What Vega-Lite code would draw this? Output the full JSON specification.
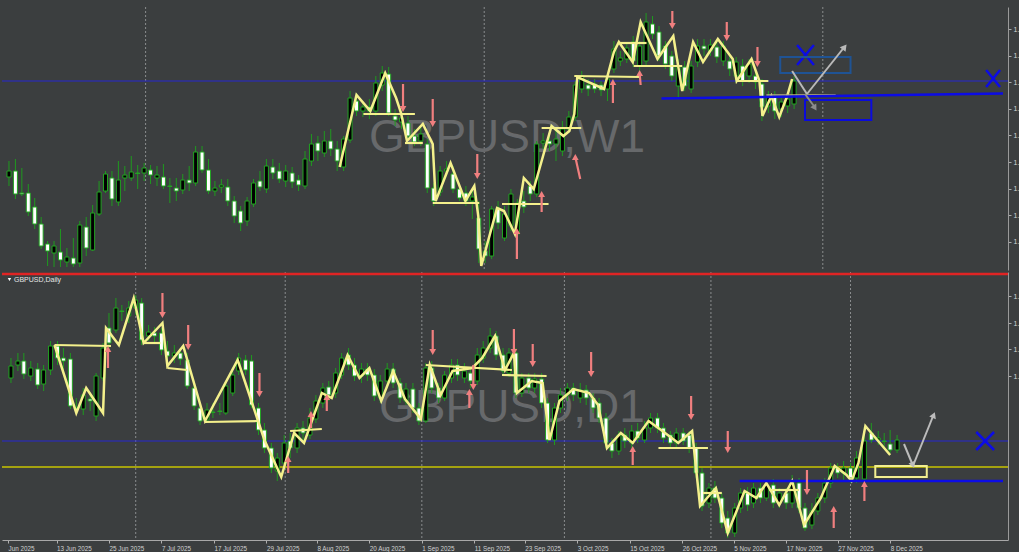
{
"$schema":"https://vega.github.io/schema/vega-lite/v6.json",
"background":"#3b3e3f",
"padding":{"left":0,"top":6,"right":0,"bottom":0},
"spacing":0,
"config":{"view":{"stroke":null},"axis":{"labelFont":"Liberation Sans","grid":false}},
"datasets":{
"tc":[{"x":2,"o":176,"c":170,"h":160,"l":185},{"x":8.5,"o":170,"c":193,"h":158,"l":198},{"x":15,"o":192,"c":193,"h":167,"l":195},{"x":21.5,"o":192,"c":211,"h":183,"l":215},{"x":28,"o":206,"c":223,"h":197,"l":228},{"x":34.5,"o":223,"c":245,"h":216,"l":248},{"x":41,"o":243,"c":250,"h":240,"l":265},{"x":47.5,"o":252,"c":245,"h":240,"l":266},{"x":54,"o":251,"c":259,"h":228,"l":266},{"x":60.5,"o":261,"c":256,"h":247,"l":266},{"x":67,"o":257,"c":263,"h":237,"l":266},{"x":73.5,"o":262,"c":224,"h":220,"l":266},{"x":80,"o":226,"c":247,"h":216,"l":255},{"x":86.5,"o":249,"c":212,"h":204,"l":250},{"x":93,"o":213,"c":191,"h":180,"l":215},{"x":99.5,"o":190,"c":173,"h":170,"l":192},{"x":106,"o":177,"c":198,"h":170,"l":205},{"x":112.5,"o":201,"c":179,"h":160,"l":205},{"x":119,"o":177,"c":174,"h":165,"l":190},{"x":125.5,"o":177,"c":171,"h":155,"l":180},{"x":132,"o":172,"c":172.5,"h":164,"l":188},{"x":138.5,"o":172,"c":167,"h":162,"l":180},{"x":145,"o":169,"c":174,"h":164,"l":183},{"x":151.5,"o":177,"c":174,"h":165,"l":185},{"x":158,"o":176,"c":185,"h":163,"l":188},{"x":164.5,"o":185,"c":185.5,"h":177,"l":202},{"x":171,"o":187,"c":190,"h":177,"l":200},{"x":177.5,"o":189,"c":179,"h":173,"l":193},{"x":184,"o":179,"c":182,"h":165,"l":190},{"x":190.5,"o":182,"c":151,"h":145,"l":185},{"x":197,"o":151,"c":169,"h":145,"l":172},{"x":203.5,"o":169,"c":190,"h":158,"l":193},{"x":210,"o":190,"c":187,"h":180,"l":195},{"x":216.5,"o":186,"c":184,"h":178,"l":192},{"x":223,"o":186,"c":200,"h":178,"l":205},{"x":229.5,"o":200,"c":215,"h":195,"l":222},{"x":236,"o":210,"c":222,"h":205,"l":230},{"x":242.5,"o":220,"c":200,"h":196,"l":225},{"x":249,"o":203,"c":182,"h":178,"l":206},{"x":255.5,"o":180,"c":186,"h":170,"l":190},{"x":262,"o":188,"c":165,"h":158,"l":192},{"x":268.5,"o":166,"c":172,"h":158,"l":178},{"x":275,"o":170,"c":178,"h":162,"l":182},{"x":281.5,"o":180,"c":170,"h":164,"l":186},{"x":288,"o":172,"c":181,"h":166,"l":187},{"x":294.5,"o":179,"c":184,"h":174,"l":190},{"x":301,"o":185,"c":158,"h":150,"l":188},{"x":307.5,"o":160,"c":143,"h":133,"l":165},{"x":314,"o":142,"c":150,"h":135,"l":160},{"x":320.5,"o":152,"c":140,"h":130,"l":156},{"x":327,"o":140,"c":148,"h":128,"l":155},{"x":333.5,"o":148,"c":160,"h":140,"l":170},{"x":340,"o":166,"c":138,"h":135,"l":170},{"x":346.5,"o":139,"c":97,"h":90,"l":142},{"x":353,"o":100,"c":110,"h":92,"l":115},{"x":359.5,"o":110,"c":106,"h":100,"l":116},{"x":366,"o":106,"c":110,"h":98,"l":118},{"x":372.5,"o":110,"c":82,"h":75,"l":115},{"x":379,"o":84,"c":72,"h":65,"l":90},{"x":385.5,"o":73,"c":112,"h":66,"l":115},{"x":392,"o":115,"c":119,"h":108,"l":125},{"x":398.5,"o":121,"c":117,"h":112,"l":128},{"x":405,"o":122,"c":135,"h":115,"l":140},{"x":411.5,"o":135,"c":141,"h":128,"l":145},{"x":418,"o":140,"c":133,"h":125,"l":145},{"x":424.5,"o":143,"c":187,"h":138,"l":192},{"x":431,"o":187,"c":200,"h":182,"l":205},{"x":437.5,"o":191,"c":170,"h":165,"l":195},{"x":444,"o":170,"c":168,"h":160,"l":175},{"x":450.5,"o":173,"c":188,"h":165,"l":192},{"x":457,"o":188,"c":197,"h":182,"l":200},{"x":463.5,"o":192,"c":200,"h":185,"l":205},{"x":470,"o":200,"c":196,"h":188,"l":218},{"x":476.5,"o":217,"c":248,"h":200,"l":262},{"x":483,"o":250,"c":255,"h":240,"l":262},{"x":489.5,"o":255,"c":208,"h":205,"l":258},{"x":496,"o":207,"c":222,"h":200,"l":228},{"x":502.5,"o":237,"c":213,"h":205,"l":240},{"x":509,"o":225,"c":193,"h":188,"l":230},{"x":515.5,"o":233,"c":202,"h":198,"l":240},{"x":522,"o":200,"c":206,"h":190,"l":212},{"x":528.5,"o":185,"c":193,"h":180,"l":200},{"x":535,"o":193,"c":143,"h":140,"l":196},{"x":541.5,"o":142,"c":140,"h":132,"l":148},{"x":548,"o":140,"c":143,"h":135,"l":150},{"x":554.5,"o":143,"c":138,"h":128,"l":160},{"x":561,"o":150,"c":128,"h":120,"l":155},{"x":567.5,"o":128,"c":116,"h":110,"l":132},{"x":574,"o":116,"c":84,"h":80,"l":120},{"x":580.5,"o":88,"c":75,"h":70,"l":92},{"x":587,"o":84,"c":88,"h":78,"l":95},{"x":593.5,"o":83,"c":88,"h":78,"l":92},{"x":600,"o":84,"c":89,"h":80,"l":95},{"x":606.5,"o":88,"c":78,"h":72,"l":100},{"x":613,"o":68,"c":48,"h":40,"l":72},{"x":619.5,"o":60,"c":57,"h":50,"l":65},{"x":626,"o":58,"c":47,"h":42,"l":62},{"x":632.5,"o":41,"c":60,"h":35,"l":66},{"x":639,"o":65,"c":45,"h":40,"l":70},{"x":645.5,"o":60,"c":21,"h":12,"l":66},{"x":652,"o":23,"c":33,"h":15,"l":38},{"x":658.5,"o":31,"c":55,"h":25,"l":60},{"x":665,"o":45,"c":63,"h":40,"l":68},{"x":671.5,"o":55,"c":75,"h":50,"l":80},{"x":678,"o":85,"c":65,"h":58,"l":98},{"x":684.5,"o":66,"c":85,"h":60,"l":90},{"x":691,"o":88,"c":65,"h":60,"l":92},{"x":697.5,"o":61,"c":45,"h":38,"l":66},{"x":704,"o":45,"c":48,"h":38,"l":55},{"x":710.5,"o":50,"c":44,"h":38,"l":55},{"x":717,"o":46,"c":56,"h":40,"l":62},{"x":723.5,"o":60,"c":45,"h":40,"l":65},{"x":730,"o":60,"c":68,"h":55,"l":75},{"x":736.5,"o":75,"c":61,"h":56,"l":82},{"x":743,"o":65,"c":80,"h":58,"l":85},{"x":749.5,"o":75,"c":63,"h":58,"l":82},{"x":756,"o":75,"c":81,"h":70,"l":88},{"x":762.5,"o":83,"c":106,"h":78,"l":120},{"x":769,"o":105,"c":96,"h":90,"l":112},{"x":775.5,"o":96,"c":110,"h":90,"l":118},{"x":782,"o":108,"c":101,"h":95,"l":116},{"x":788.5,"o":105,"c":98,"h":92,"l":112},{"x":795,"o":103,"c":80,"h":75,"l":108}],
"bc":[{"x":4,"o":375,"c":363,"h":355,"l":380},{"x":11,"o":362,"c":358,"h":350,"l":368},{"x":17,"o":358,"c":371,"h":350,"l":376},{"x":24,"o":373,"c":365,"h":358,"l":378},{"x":31,"o":366,"c":382,"h":360,"l":386},{"x":37,"o":381,"c":367,"h":362,"l":388},{"x":44,"o":367,"c":343,"h":338,"l":372},{"x":51,"o":343,"c":355,"h":338,"l":362},{"x":57,"o":355,"c":358,"h":345,"l":370},{"x":64,"o":356,"c":403,"h":350,"l":406},{"x":70,"o":405,"c":406,"h":395,"l":410},{"x":77,"o":406,"c":392,"h":385,"l":412},{"x":84,"o":396,"c":398,"h":390,"l":408},{"x":90,"o":413,"c":373,"h":370,"l":418},{"x":97,"o":375,"c":345,"h":340,"l":378},{"x":103,"o":325,"c":340,"h":310,"l":345},{"x":110,"o":327,"c":305,"h":295,"l":330},{"x":116,"o":308,"c":308.5,"h":302,"l":318},{"x":123,"o":313,"c":305,"h":298,"l":320},{"x":130,"o":305,"c":297,"h":292,"l":312},{"x":136,"o":300,"c":337,"h":295,"l":342},{"x":143,"o":333,"c":329,"h":322,"l":338},{"x":149,"o":330,"c":333,"h":324,"l":340},{"x":156,"o":330,"c":347,"h":325,"l":352},{"x":162,"o":348,"c":353,"h":338,"l":358},{"x":169,"o":353,"c":350,"h":342,"l":360},{"x":175,"o":350,"c":356,"h":345,"l":362},{"x":182,"o":357,"c":383,"h":350,"l":386},{"x":189,"o":385,"c":403,"h":378,"l":407},{"x":195,"o":405,"c":418,"h":400,"l":422},{"x":202,"o":417,"c":407,"h":400,"l":420},{"x":208,"o":409,"c":409.5,"h":400,"l":415},{"x":215,"o":408,"c":408.5,"h":400,"l":412},{"x":221,"o":410,"c":383,"h":378,"l":412},{"x":228,"o":390,"c":372,"h":368,"l":393},{"x":234,"o":368,"c":355,"h":350,"l":372},{"x":241,"o":357,"c":367,"h":352,"l":372},{"x":247,"o":358,"c":402,"h":352,"l":405},{"x":254,"o":405,"c":427,"h":400,"l":432},{"x":260,"o":427,"c":445,"h":420,"l":450},{"x":267,"o":445,"c":465,"h":440,"l":470},{"x":273,"o":468,"c":455,"h":450,"l":478},{"x":280,"o":460,"c":440,"h":432,"l":465},{"x":286,"o":438,"c":445,"h":430,"l":455},{"x":293,"o":445,"c":425,"h":420,"l":450},{"x":299,"o":425,"c":430,"h":418,"l":438},{"x":306,"o":432,"c":415,"h":405,"l":436},{"x":312,"o":416,"c":398,"h":392,"l":420},{"x":319,"o":400,"c":385,"h":380,"l":405},{"x":325,"o":384,"c":392,"h":378,"l":398},{"x":332,"o":390,"c":370,"h":365,"l":395},{"x":338,"o":372,"c":355,"h":350,"l":376},{"x":345,"o":352,"c":362,"h":345,"l":367},{"x":351,"o":362,"c":373,"h":355,"l":378},{"x":358,"o":373,"c":366,"h":360,"l":380},{"x":364,"o":366,"c":372,"h":360,"l":378},{"x":371,"o":372,"c":393,"h":366,"l":398},{"x":377,"o":395,"c":378,"h":372,"l":400},{"x":384,"o":378,"c":366,"h":360,"l":382},{"x":390,"o":366,"c":380,"h":360,"l":385},{"x":397,"o":380,"c":395,"h":375,"l":400},{"x":403,"o":398,"c":386,"h":380,"l":402},{"x":410,"o":386,"c":405,"h":380,"l":410},{"x":416,"o":405,"c":418,"h":400,"l":422},{"x":423,"o":418,"c":365,"h":360,"l":420},{"x":429,"o":365,"c":385,"h":358,"l":390},{"x":436,"o":385,"c":395,"h":380,"l":400},{"x":442,"o":395,"c":372,"h":368,"l":398},{"x":449,"o":375,"c":362,"h":356,"l":380},{"x":455,"o":362,"c":372,"h":356,"l":378},{"x":462,"o":375,"c":368,"h":360,"l":380},{"x":468,"o":370,"c":378,"h":364,"l":385},{"x":475,"o":378,"c":352,"h":345,"l":382},{"x":481,"o":355,"c":345,"h":338,"l":360},{"x":488,"o":345,"c":333,"h":325,"l":350},{"x":494,"o":333,"c":352,"h":328,"l":357},{"x":501,"o":352,"c":368,"h":345,"l":372},{"x":507,"o":370,"c":350,"h":345,"l":374},{"x":514,"o":350,"c":390,"h":345,"l":395},{"x":520,"o":390,"c":375,"h":370,"l":394},{"x":527,"o":375,"c":385,"h":370,"l":390},{"x":533,"o":385,"c":376,"h":370,"l":390},{"x":540,"o":376,"c":400,"h":370,"l":405},{"x":546,"o":400,"c":437,"h":395,"l":440},{"x":553,"o":437,"c":405,"h":400,"l":442},{"x":559,"o":405,"c":392,"h":385,"l":410},{"x":566,"o":392,"c":385,"h":380,"l":398},{"x":572,"o":385,"c":392,"h":380,"l":398},{"x":579,"o":395,"c":387,"h":380,"l":400},{"x":585,"o":387,"c":395,"h":382,"l":402},{"x":592,"o":395,"c":405,"h":390,"l":410},{"x":598,"o":400,"c":415,"h":395,"l":420},{"x":605,"o":415,"c":440,"h":410,"l":445},{"x":611,"o":440,"c":448,"h":435,"l":455},{"x":618,"o":448,"c":432,"h":428,"l":452},{"x":624,"o":432,"c":438,"h":425,"l":445},{"x":631,"o":440,"c":428,"h":422,"l":445},{"x":637,"o":428,"c":435,"h":420,"l":440},{"x":644,"o":437,"c":425,"h":418,"l":440},{"x":650,"o":425,"c":415,"h":410,"l":430},{"x":657,"o":415,"c":425,"h":410,"l":430},{"x":663,"o":425,"c":435,"h":420,"l":440},{"x":670,"o":432,"c":440,"h":428,"l":445},{"x":676,"o":440,"c":430,"h":425,"l":445},{"x":683,"o":430,"c":438,"h":425,"l":442},{"x":689,"o":432,"c":445,"h":428,"l":450},{"x":696,"o":445,"c":470,"h":440,"l":475},{"x":702,"o":470,"c":503,"h":465,"l":508},{"x":709,"o":500,"c":485,"h":480,"l":505},{"x":715,"o":485,"c":495,"h":478,"l":500},{"x":722,"o":495,"c":520,"h":490,"l":525},{"x":728,"o":515,"c":530,"h":508,"l":535},{"x":735,"o":530,"c":505,"h":500,"l":534},{"x":741,"o":505,"c":490,"h":485,"l":510},{"x":748,"o":490,"c":502,"h":484,"l":508},{"x":754,"o":500,"c":485,"h":480,"l":505},{"x":761,"o":485,"c":495,"h":480,"l":500},{"x":767,"o":495,"c":482,"h":478,"l":498},{"x":774,"o":482,"c":500,"h":476,"l":505},{"x":780,"o":500,"c":490,"h":485,"l":505},{"x":787,"o":490,"c":500,"h":485,"l":506},{"x":793,"o":500,"c":478,"h":472,"l":505},{"x":800,"o":480,"c":505,"h":475,"l":510},{"x":806,"o":505,"c":525,"h":500,"l":528},{"x":813,"o":522,"c":508,"h":500,"l":526},{"x":819,"o":508,"c":495,"h":490,"l":512},{"x":826,"o":495,"c":480,"h":475,"l":500},{"x":832,"o":480,"c":465,"h":460,"l":485},{"x":839,"o":465,"c":470,"h":460,"l":475},{"x":845,"o":470,"c":465,"h":458,"l":478},{"x":852,"o":465,"c":475,"h":460,"l":480},{"x":858,"o":475,"c":455,"h":448,"l":480},{"x":866,"o":476,"c":438,"h":424,"l":478},{"x":873,"o":430,"c":437,"h":420,"l":440},{"x":880,"o":437,"c":435,"h":428,"l":442},{"x":886,"o":438,"c":438.5,"h":430,"l":445},{"x":892,"o":441,"c":447,"h":427,"l":450},{"x":899,"o":447,"c":437,"h":432,"l":450}],
"tz":[{"x":336,"y":166},{"x":344,"y":132},{"x":353,"y":94},{"x":367,"y":110},{"x":382,"y":72},{"x":393,"y":97},{"x":398,"y":112},{"x":404,"y":140},{"x":420,"y":123},{"x":430,"y":143},{"x":433,"y":200},{"x":448,"y":162},{"x":463,"y":200},{"x":472,"y":185},{"x":476,"y":215},{"x":479,"y":265},{"x":495,"y":207},{"x":502,"y":210},{"x":513,"y":233},{"x":522,"y":177},{"x":532,"y":188},{"x":550,"y":125},{"x":562,"y":135},{"x":568,"y":130},{"x":573,"y":113},{"x":576,"y":76},{"x":603,"y":88},{"x":613,"y":51},{"x":618,"y":41},{"x":632,"y":61},{"x":640,"y":21},{"x":657,"y":58},{"x":673,"y":35},{"x":682,"y":90},{"x":693,"y":41},{"x":703,"y":61},{"x":718,"y":38},{"x":733,"y":58},{"x":737,"y":80},{"x":752,"y":58},{"x":760,"y":80},{"x":763,"y":115},{"x":772,"y":95},{"x":780,"y":116},{"x":788,"y":95},{"x":793,"y":78}],
"bz":[{"x":48,"y":342},{"x":70,"y":410},{"x":80,"y":385},{"x":97,"y":410},{"x":100,"y":325},{"x":113,"y":342},{"x":128,"y":295},{"x":138,"y":340},{"x":157,"y":320},{"x":162,"y":363},{"x":178,"y":343},{"x":200,"y":418},{"x":233,"y":357},{"x":260,"y":437},{"x":277,"y":474},{"x":290,"y":430},{"x":300,"y":440},{"x":318,"y":390},{"x":328,"y":395},{"x":344,"y":352},{"x":356,"y":375},{"x":366,"y":365},{"x":378,"y":398},{"x":390,"y":368},{"x":402,"y":396},{"x":418,"y":416},{"x":427,"y":362},{"x":438,"y":392},{"x":450,"y":368},{"x":470,"y":365},{"x":480,"y":355},{"x":493,"y":333},{"x":503,"y":367},{"x":512,"y":350},{"x":515,"y":390},{"x":530,"y":378},{"x":541,"y":380},{"x":548,"y":437},{"x":558,"y":398},{"x":572,"y":386},{"x":588,"y":390},{"x":597,"y":402},{"x":606,"y":445},{"x":620,"y":430},{"x":632,"y":440},{"x":648,"y":418},{"x":662,"y":428},{"x":678,"y":440},{"x":692,"y":428},{"x":700,"y":503},{"x":716,"y":485},{"x":728,"y":530},{"x":745,"y":488},{"x":757,"y":495},{"x":767,"y":480},{"x":780,"y":502},{"x":793,"y":478},{"x":805,"y":522},{"x":822,"y":495},{"x":836,"y":463},{"x":848,"y":472},{"x":853,"y":478},{"x":860,"y":460},{"x":867,"y":423},{"x":873,"y":430},{"x":892,"y":452}],
"ts":[{"x":360,"y":113,"x2":412,"y2":113},{"x":402,"y":142,"x2":420,"y2":142},{"x":430,"y":202,"x2":477,"y2":202},{"x":500,"y":203,"x2":547,"y2":203},{"x":540,"y":127,"x2":580,"y2":127},{"x":573,"y":75,"x2":640,"y2":76},{"x":617,"y":42,"x2":646,"y2":42},{"x":633,"y":65,"x2":682,"y2":65},{"x":737,"y":80,"x2":769,"y2":80}],
"bs":[{"x":48,"y":342,"x2":105,"y2":343},{"x":138,"y":340,"x2":155,"y2":340},{"x":162,"y":365,"x2":182,"y2":367},{"x":200,"y":419,"x2":253,"y2":418},{"x":286,"y":428,"x2":318,"y2":426},{"x":423,"y":362,"x2":510,"y2":367},{"x":500,"y":372,"x2":545,"y2":373},{"x":658,"y":445,"x2":708,"y2":445},{"x":703,"y":490,"x2":722,"y2":490},{"x":770,"y":487,"x2":800,"y2":487}],
"ta":[{"x":400,"y":83,"x2":400,"y2":108,"d":"down"},{"x":430,"y":98,"x2":430,"y2":123,"d":"down"},{"x":475,"y":153,"x2":475,"y2":175,"d":"down"},{"x":672,"y":10,"x2":672,"y2":25,"d":"down"},{"x":727,"y":21,"x2":727,"y2":37,"d":"down"},{"x":758,"y":46,"x2":758,"y2":63,"d":"down"},{"x":515,"y":258,"x2":515,"y2":230,"d":"up"},{"x":540,"y":211,"x2":540,"y2":193,"d":"up"},{"x":579,"y":178,"x2":574,"y2":156,"d":"up"},{"x":612,"y":102,"x2":612,"y2":81,"d":"up"},{"x":640,"y":84,"x2":639,"y2":72,"d":"up"}],
"ba":[{"x":157,"y":290,"x2":157,"y2":312,"d":"down"},{"x":183,"y":322,"x2":183,"y2":344,"d":"down"},{"x":255,"y":370,"x2":255,"y2":391,"d":"down"},{"x":430,"y":327,"x2":430,"y2":349,"d":"down"},{"x":471,"y":362,"x2":471,"y2":384,"d":"down"},{"x":512,"y":326,"x2":512,"y2":349,"d":"down"},{"x":531,"y":341,"x2":531,"y2":361,"d":"down"},{"x":590,"y":349,"x2":590,"y2":371,"d":"down"},{"x":691,"y":393,"x2":691,"y2":414,"d":"down"},{"x":728,"y":428,"x2":728,"y2":447,"d":"down"},{"x":808,"y":467,"x2":808,"y2":489,"d":"down"},{"x":102,"y":365,"x2":102,"y2":346,"d":"up"},{"x":284,"y":470,"x2":284,"y2":456,"d":"up"},{"x":307,"y":425,"x2":307,"y2":411,"d":"up"},{"x":323,"y":408,"x2":323,"y2":394,"d":"up"},{"x":467,"y":405,"x2":467,"y2":389,"d":"up"},{"x":632,"y":462,"x2":632,"y2":446,"d":"up"},{"x":835,"y":525,"x2":835,"y2":506,"d":"up"},{"x":866,"y":498,"x2":866,"y2":481,"d":"up"}]
},
"vconcat":[
{"width":1006,"height":263,
"resolve":{"axis":{"x":"independent","y":"independent"}},
"layer":[
{"data":{"values":[{"x":140},{"x":482},{"x":824}]},"mark":{"type":"rule","strokeDash":[2,2],"color":"#8a8d8e","strokeWidth":1},"encoding":{"x":{"field":"x","type":"quantitative","scale":{"domain":[0,1006],"nice":false,"zero":false},"axis":null}}},
{"data":{"values":[{"x":505,"y":137,"t":"GBPUSD,W1"}]},"mark":{"type":"text","fontSize":46,"font":"Liberation Sans","color":"#67696b","align":"center","baseline":"middle"},"encoding":{"x":{"field":"x","type":"quantitative","scale":{"domain":[0,1006],"nice":false,"zero":false},"axis":null},"y":{"field":"y","type":"quantitative","scale":{"domain":[6,269],"nice":false,"zero":false,"reverse":true},"axis":null},"text":{"field":"t"}}},
{"data":{"values":[{"y":80}]},"mark":{"type":"rule","color":"#2626d2","strokeWidth":1.2},"encoding":{"y":{"field":"y","type":"quantitative","scale":{"domain":[6,269],"nice":false,"zero":false,"reverse":true},"axis":null}}},
{"data":{"name":"tc"},"mark":{"type":"rule","color":"#1f9a1f","strokeWidth":1},"encoding":{"x":{"field":"x","type":"quantitative","scale":{"domain":[0,1006],"nice":false,"zero":false},"axis":null},"y":{"field":"h","type":"quantitative","scale":{"domain":[6,269],"nice":false,"zero":false,"reverse":true},"axis":null},"y2":{"field":"l"}}},
{"data":{"name":"tc"},"mark":{"type":"bar","width":4,"stroke":"#22a322","strokeWidth":1},"encoding":{"x":{"field":"x","type":"quantitative","scale":{"domain":[0,1006],"nice":false,"zero":false},"axis":null},"y":{"field":"o","type":"quantitative","scale":{"domain":[6,269],"nice":false,"zero":false,"reverse":true},"axis":{"orient":"right","title":null,"values":[28,54.6,81.2,107.8,134.4,161,187.6,214.2,240.8],"labelExpr":"'1.'","tickSize":3,"labelPadding":2,"labelFontSize":7,"labelColor":"#d6d6d6","tickColor":"#aaaaaa","domainColor":"#9a9a9a"}},"y2":{"field":"c"},"fill":{"condition":{"test":"datum.c < datum.o","value":"#000000"},"value":"#ffffff"}}},
{"data":{"name":"tz"},"mark":{"type":"line","color":"#f4f08c","strokeWidth":2.5},"encoding":{"x":{"field":"x","type":"quantitative","scale":{"domain":[0,1006],"nice":false,"zero":false},"axis":null},"y":{"field":"y","type":"quantitative","scale":{"domain":[6,269],"nice":false,"zero":false,"reverse":true},"axis":null}}},
{"data":{"name":"ts"},"mark":{"type":"rule","color":"#f4f08c","strokeWidth":2.2},"encoding":{"x":{"field":"x","type":"quantitative","scale":{"domain":[0,1006],"nice":false,"zero":false},"axis":null},"x2":{"field":"x2"},"y":{"field":"y","type":"quantitative","scale":{"domain":[6,269],"nice":false,"zero":false,"reverse":true},"axis":null},"y2":{"field":"y2"}}},
{"data":{"values":[{"x":767,"y":94,"x2":837,"y2":94}]},"mark":{"type":"rule","color":"#b8b283","strokeWidth":1.5},"encoding":{"x":{"field":"x","type":"quantitative","scale":{"domain":[0,1006],"nice":false,"zero":false},"axis":null},"x2":{"field":"x2"},"y":{"field":"y","type":"quantitative","scale":{"domain":[6,269],"nice":false,"zero":false,"reverse":true},"axis":null},"y2":{"field":"y2"}}},
{"data":{"values":[{"x":661,"y":97.5,"x2":1006,"y2":92.5},{"x":798,"y":44,"x2":815,"y2":64},{"x":815,"y":44,"x2":798,"y2":64},{"x":989,"y":69,"x2":1003,"y2":86},{"x":1003,"y":69,"x2":989,"y2":86}]},"mark":{"type":"rule","color":"#0c0ce6","strokeWidth":2.5},"encoding":{"x":{"field":"x","type":"quantitative","scale":{"domain":[0,1006],"nice":false,"zero":false},"axis":null},"x2":{"field":"x2"},"y":{"field":"y","type":"quantitative","scale":{"domain":[6,269],"nice":false,"zero":false,"reverse":true},"axis":null},"y2":{"field":"y2"}}},
{"data":{"values":[{"x":781,"y":56,"x2":852,"y2":72}]},"mark":{"type":"rect","fill":null,"stroke":"#1f5394","strokeWidth":2},"encoding":{"x":{"field":"x","type":"quantitative","scale":{"domain":[0,1006],"nice":false,"zero":false},"axis":null},"x2":{"field":"x2"},"y":{"field":"y","type":"quantitative","scale":{"domain":[6,269],"nice":false,"zero":false,"reverse":true},"axis":null},"y2":{"field":"y2"}}},
{"data":{"values":[{"x":806,"y":99,"x2":873,"y2":119}]},"mark":{"type":"rect","fill":null,"stroke":"#0b0bdc","strokeWidth":2},"encoding":{"x":{"field":"x","type":"quantitative","scale":{"domain":[0,1006],"nice":false,"zero":false},"axis":null},"x2":{"field":"x2"},"y":{"field":"y","type":"quantitative","scale":{"domain":[6,269],"nice":false,"zero":false,"reverse":true},"axis":null},"y2":{"field":"y2"}}},
{"data":{"values":[{"x":806,"y":93,"x2":815,"y2":105}]},"mark":{"type":"rule","color":"#8c8c8c","strokeWidth":2},"encoding":{"x":{"field":"x","type":"quantitative","scale":{"domain":[0,1006],"nice":false,"zero":false},"axis":null},"x2":{"field":"x2"},"y":{"field":"y","type":"quantitative","scale":{"domain":[6,269],"nice":false,"zero":false,"reverse":true},"axis":null},"y2":{"field":"y2"}}},
{"data":{"values":[{"x":816,"y":107}]},"mark":{"type":"point","shape":"triangle-up","filled":true,"size":50,"color":"#8c8c8c","angle":148,"opacity":1},"encoding":{"x":{"field":"x","type":"quantitative","scale":{"domain":[0,1006],"nice":false,"zero":false},"axis":null},"y":{"field":"y","type":"quantitative","scale":{"domain":[6,269],"nice":false,"zero":false,"reverse":true},"axis":null}}},
{"data":{"values":[{"x":793,"y":70,"x2":808,"y2":93},{"x":808,"y":93,"x2":845,"y2":47}]},"mark":{"type":"rule","color":"#b9b9b9","strokeWidth":2},"encoding":{"x":{"field":"x","type":"quantitative","scale":{"domain":[0,1006],"nice":false,"zero":false},"axis":null},"x2":{"field":"x2"},"y":{"field":"y","type":"quantitative","scale":{"domain":[6,269],"nice":false,"zero":false,"reverse":true},"axis":null},"y2":{"field":"y2"}}},
{"data":{"values":[{"x":846,"y":46}]},"mark":{"type":"point","shape":"triangle-up","filled":true,"size":55,"color":"#b9b9b9","angle":38,"opacity":1},"encoding":{"x":{"field":"x","type":"quantitative","scale":{"domain":[0,1006],"nice":false,"zero":false},"axis":null},"y":{"field":"y","type":"quantitative","scale":{"domain":[6,269],"nice":false,"zero":false,"reverse":true},"axis":null}}},
{"data":{"name":"ta"},"mark":{"type":"rule","color":"#f07f7f","strokeWidth":2.2},"encoding":{"x":{"field":"x","type":"quantitative","scale":{"domain":[0,1006],"nice":false,"zero":false},"axis":null},"x2":{"field":"x2"},"y":{"field":"y","type":"quantitative","scale":{"domain":[6,269],"nice":false,"zero":false,"reverse":true},"axis":null},"y2":{"field":"y2"}}},
{"data":{"name":"ta"},"mark":{"type":"point","filled":true,"size":45,"color":"#f07f7f","opacity":1},"encoding":{"x":{"field":"x2","type":"quantitative","scale":{"domain":[0,1006],"nice":false,"zero":false},"axis":null},"y":{"field":"y2","type":"quantitative","scale":{"domain":[6,269],"nice":false,"zero":false,"reverse":true},"axis":null},"shape":{"field":"d","type":"nominal","scale":{"domain":["down","up"],"range":["triangle-down","triangle-up"]},"legend":null}}}
]},
{"width":1006,"height":268,
"resolve":{"axis":{"x":"independent","y":"independent"}},
"layer":[
{"data":{"values":[{"x":130},{"x":281},{"x":419},{"x":563},{"x":711},{"x":852}]},"mark":{"type":"rule","strokeDash":[2,2],"color":"#8a8d8e","strokeWidth":1},"encoding":{"x":{"field":"x","type":"quantitative","scale":{"domain":[0,1006],"nice":false,"zero":false},"axis":null}}},
{"data":{"values":[{"x":510,"y":405,"t":"GBPUSD,D1"}]},"mark":{"type":"text","fontSize":46,"font":"Liberation Sans","color":"#67696b","align":"center","baseline":"middle"},"encoding":{"x":{"field":"x","type":"quantitative","scale":{"domain":[0,1006],"nice":false,"zero":false},"axis":null},"y":{"field":"y","type":"quantitative","scale":{"domain":[269,537],"nice":false,"zero":false,"reverse":true},"axis":null},"text":{"field":"t"}}},
{"data":{"values":[{"y":271}]},"mark":{"type":"rule","color":"#e02424","strokeWidth":2.5},"encoding":{"y":{"field":"y","type":"quantitative","scale":{"domain":[269,537],"nice":false,"zero":false,"reverse":true},"axis":null}}},
{"data":{"values":[{"y":438}]},"mark":{"type":"rule","color":"#2626d2","strokeWidth":1.2},"encoding":{"y":{"field":"y","type":"quantitative","scale":{"domain":[269,537],"nice":false,"zero":false,"reverse":true},"axis":null}}},
{"data":{"values":[{"y":464}]},"mark":{"type":"rule","color":"#c9c400","strokeWidth":1.6},"encoding":{"y":{"field":"y","type":"quantitative","scale":{"domain":[269,537],"nice":false,"zero":false,"reverse":true},"axis":null}}},
{"data":{"values":[{"x":7,"y":277,"t":"GBPUSD,Daily"}]},"mark":{"type":"text","fontSize":7,"font":"Liberation Sans","color":"#e6e6e6","align":"left","baseline":"middle"},"encoding":{"x":{"field":"x","type":"quantitative","scale":{"domain":[0,1006],"nice":false,"zero":false},"axis":null},"y":{"field":"y","type":"quantitative","scale":{"domain":[269,537],"nice":false,"zero":false,"reverse":true},"axis":null},"text":{"field":"t"}}},
{"data":{"values":[{"x":2.5,"y":276.5}]},"mark":{"type":"point","shape":"triangle-down","filled":true,"size":12,"color":"#ffffff","opacity":1},"encoding":{"x":{"field":"x","type":"quantitative","scale":{"domain":[0,1006],"nice":false,"zero":false},"axis":null},"y":{"field":"y","type":"quantitative","scale":{"domain":[269,537],"nice":false,"zero":false,"reverse":true},"axis":null}}},
{"data":{"name":"bc"},"mark":{"type":"rule","color":"#1f9a1f","strokeWidth":1},"encoding":{"x":{"field":"x","type":"quantitative","scale":{"domain":[0,1006],"nice":false,"zero":false},"axis":null},"y":{"field":"h","type":"quantitative","scale":{"domain":[269,537],"nice":false,"zero":false,"reverse":true},"axis":null},"y2":{"field":"l"}}},
{"data":{"name":"bc"},"mark":{"type":"bar","width":4,"stroke":"#22a322","strokeWidth":1},"encoding":{"x":{"field":"x","type":"quantitative","scale":{"domain":[0,1006],"nice":false,"zero":false},"axis":{"orient":"bottom","title":null,"values":[1,50,103,156,209,262,313,366,419,472,523,576,629,682,734,787,839,892],"labelExpr":"['Jun 2025','13 Jun 2025','25 Jun 2025','7 Jul 2025','17 Jul 2025','29 Jul 2025','8 Aug 2025','20 Aug 2025','1 Sep 2025','11 Sep 2025','23 Sep 2025','3 Oct 2025','15 Oct 2025','26 Oct 2025','5 Nov 2025','17 Nov 2025','27 Nov 2025','8 Dec 2025'][indexof([1,50,103,156,209,262,313,366,419,472,523,576,629,682,734,787,839,892], datum.value)]","labelAlign":"left","labelFontSize":6.3,"labelColor":"#d0d0d0","tickColor":"#b0b0b0","tickSize":3,"labelPadding":2,"domainColor":"#a8a8a8","labelOverlap":false,"labelFlush":false}},"y":{"field":"o","type":"quantitative","scale":{"domain":[269,537],"nice":false,"zero":false,"reverse":true},"axis":{"orient":"right","title":null,"values":[293,320,346,373],"labelExpr":"'1.'","tickSize":3,"labelPadding":2,"labelFontSize":7,"labelColor":"#d6d6d6","tickColor":"#aaaaaa","domainColor":"#9a9a9a"}},"y2":{"field":"c"},"fill":{"condition":{"test":"datum.c < datum.o","value":"#000000"},"value":"#ffffff"}}},
{"data":{"name":"bz"},"mark":{"type":"line","color":"#f4f08c","strokeWidth":2.5},"encoding":{"x":{"field":"x","type":"quantitative","scale":{"domain":[0,1006],"nice":false,"zero":false},"axis":null},"y":{"field":"y","type":"quantitative","scale":{"domain":[269,537],"nice":false,"zero":false,"reverse":true},"axis":null}}},
{"data":{"name":"bs"},"mark":{"type":"rule","color":"#f4f08c","strokeWidth":2.2},"encoding":{"x":{"field":"x","type":"quantitative","scale":{"domain":[0,1006],"nice":false,"zero":false},"axis":null},"x2":{"field":"x2"},"y":{"field":"y","type":"quantitative","scale":{"domain":[269,537],"nice":false,"zero":false,"reverse":true},"axis":null},"y2":{"field":"y2"}}},
{"data":{"values":[{"x":740,"y":478,"x2":1006,"y2":478},{"x":979,"y":429,"x2":997,"y2":447},{"x":997,"y":429,"x2":979,"y2":447}]},"mark":{"type":"rule","color":"#0c0ce6","strokeWidth":2.5},"encoding":{"x":{"field":"x","type":"quantitative","scale":{"domain":[0,1006],"nice":false,"zero":false},"axis":null},"x2":{"field":"x2"},"y":{"field":"y","type":"quantitative","scale":{"domain":[269,537],"nice":false,"zero":false,"reverse":true},"axis":null},"y2":{"field":"y2"}}},
{"data":{"values":[{"x":877,"y":463,"x2":929,"y2":474}]},"mark":{"type":"rect","fill":null,"stroke":"#f2ee90","strokeWidth":2},"encoding":{"x":{"field":"x","type":"quantitative","scale":{"domain":[0,1006],"nice":false,"zero":false},"axis":null},"x2":{"field":"x2"},"y":{"field":"y","type":"quantitative","scale":{"domain":[269,537],"nice":false,"zero":false,"reverse":true},"axis":null},"y2":{"field":"y2"}}},
{"data":{"values":[{"x":906,"y":441,"x2":914,"y2":460},{"x":915,"y":463,"x2":935,"y2":414}]},"mark":{"type":"rule","color":"#bcbcbc","strokeWidth":2},"encoding":{"x":{"field":"x","type":"quantitative","scale":{"domain":[0,1006],"nice":false,"zero":false},"axis":null},"x2":{"field":"x2"},"y":{"field":"y","type":"quantitative","scale":{"domain":[269,537],"nice":false,"zero":false,"reverse":true},"axis":null},"y2":{"field":"y2"}}},
{"data":{"values":[{"x":915,"y":462}]},"mark":{"type":"point","shape":"triangle-up","filled":true,"size":50,"color":"#bcbcbc","angle":158,"opacity":1},"encoding":{"x":{"field":"x","type":"quantitative","scale":{"domain":[0,1006],"nice":false,"zero":false},"axis":null},"y":{"field":"y","type":"quantitative","scale":{"domain":[269,537],"nice":false,"zero":false,"reverse":true},"axis":null}}},
{"data":{"values":[{"x":936,"y":412}]},"mark":{"type":"point","shape":"triangle-up","filled":true,"size":50,"color":"#bcbcbc","angle":22,"opacity":1},"encoding":{"x":{"field":"x","type":"quantitative","scale":{"domain":[0,1006],"nice":false,"zero":false},"axis":null},"y":{"field":"y","type":"quantitative","scale":{"domain":[269,537],"nice":false,"zero":false,"reverse":true},"axis":null}}},
{"data":{"name":"ba"},"mark":{"type":"rule","color":"#f07f7f","strokeWidth":2.2},"encoding":{"x":{"field":"x","type":"quantitative","scale":{"domain":[0,1006],"nice":false,"zero":false},"axis":null},"x2":{"field":"x2"},"y":{"field":"y","type":"quantitative","scale":{"domain":[269,537],"nice":false,"zero":false,"reverse":true},"axis":null},"y2":{"field":"y2"}}},
{"data":{"name":"ba"},"mark":{"type":"point","filled":true,"size":45,"color":"#f07f7f","opacity":1},"encoding":{"x":{"field":"x2","type":"quantitative","scale":{"domain":[0,1006],"nice":false,"zero":false},"axis":null},"y":{"field":"y2","type":"quantitative","scale":{"domain":[269,537],"nice":false,"zero":false,"reverse":true},"axis":null},"shape":{"field":"d","type":"nominal","scale":{"domain":["down","up"],"range":["triangle-down","triangle-up"]},"legend":null}}}
]}
]
}
